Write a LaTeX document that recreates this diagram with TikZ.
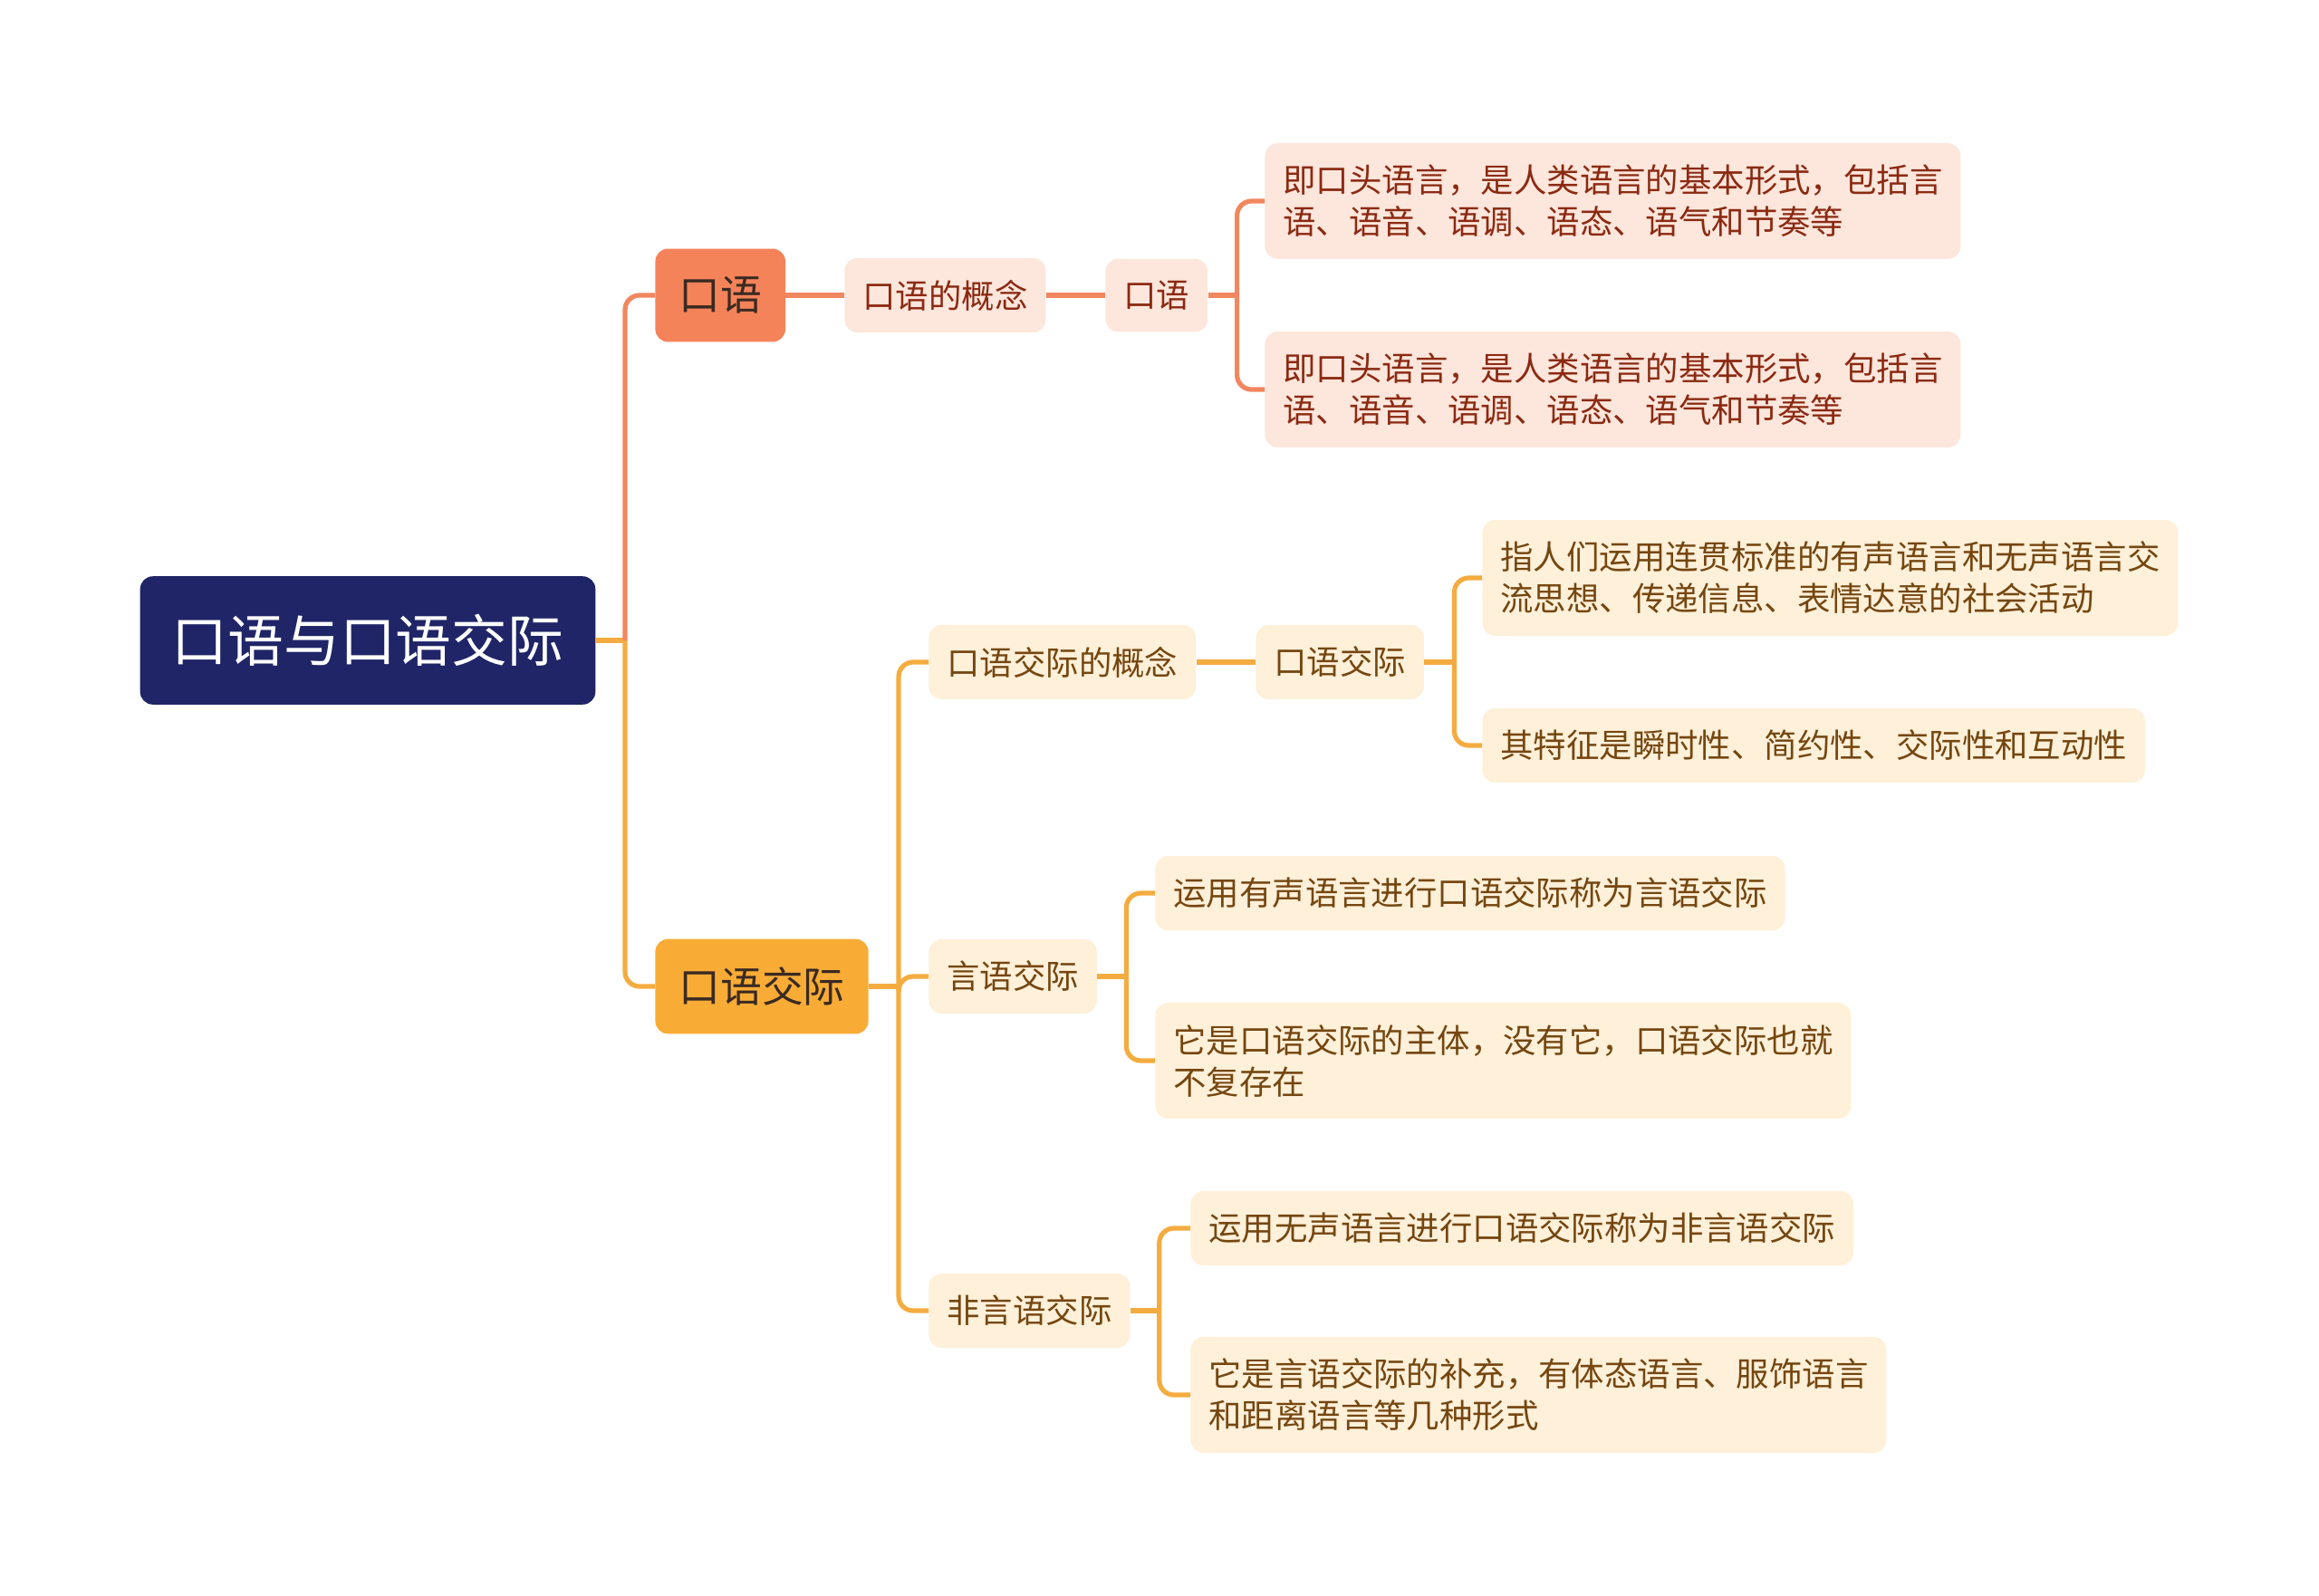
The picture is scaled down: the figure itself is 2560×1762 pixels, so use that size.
\documentclass[tikz,border=0pt]{standalone}
\usepackage{fontspec}
\setmainfont{Noto Sans CJK SC}
\usepackage{xcolor}
\usepackage{tikz}
\definecolor{navy}{HTML}{1F2566}
\definecolor{orMain}{HTML}{F5835A}
\definecolor{orLine}{HTML}{F1875F}
\definecolor{orFill}{HTML}{FDE6DC}
\definecolor{orText}{HTML}{8B2A12}
\definecolor{yeMain}{HTML}{F8AC36}
\definecolor{yeLine}{HTML}{F4AC40}
\definecolor{yeFill}{HTML}{FEF0D9}
\definecolor{yeText}{HTML}{754610}
\definecolor{darkText}{HTML}{3A2A22}

\begin{document}
\begin{tikzpicture}[x=0.5pt, y=-0.5pt]
\tikzset{box/.style={rounded corners=7pt, inner xsep=10pt, inner ysep=12pt, align=left, anchor=west, font=\fontsize{18.2}{23}\selectfont},
 obox/.style={box, fill=orFill, text=orText},
 ybox/.style={box, fill=yeFill, text=yeText},
 topic/.style={rounded corners=7pt, inner xsep=13pt, inner ysep=15.5pt, anchor=west, text=darkText, font=\fontsize{22.9}{26}\selectfont},
 oline/.style={draw=orLine, line width=2.6pt},
 yline/.style={draw=yeLine, line width=2.6pt}}
\useasboundingbox (0,0) rectangle (2560,1762);

\node [rounded corners=7pt, fill=navy, text=white, inner xsep=17.5pt, inner ysep=21pt, font=\fontsize{30.9}{34}\selectfont] (root) at (406,707) {口语与口语交际};

\node [topic, fill=orMain] (ky) at (723,326) {口语};
\node [topic, fill=yeMain] (kyjj) at (723,1089) {口语交际};

\node [obox] (kygn) at (932,326) {口语的概念};
\node [obox] (ky3) at (1220,326) {口语};
\node [obox] (kyA) at (1396,222) {即口头语言，是人类语言的基本形式，包括言\\语、语音、语调、语态、语气和节奏等};
\node [obox] (kyB) at (1396,430) {即口头语言，是人类语言的基本形式，包括言\\语、语音、语调、语态、语气和节奏等};

\node [ybox] (jjgn) at (1025,731) {口语交际的概念};
\node [ybox] (jj3) at (1386,731) {口语交际};
\node [ybox] (jjA) at (1636,638) {指人们运用连贯标准的有声语言和无声语言交\\流思想、传递信息、表情达意的社会活动};
\node [ybox] (jjB) at (1636,823) {其特征是瞬时性、简约性、交际性和互动性};

\node [ybox] (yy) at (1025,1078) {言语交际};
\node [ybox] (yyA) at (1275,986) {运用有声语言进行口语交际称为言语交际};
\node [ybox] (yyB) at (1275,1171) {它是口语交际的主体，没有它，口语交际也就\\不复存在};

\node [ybox] (fy) at (1025,1447) {非言语交际};
\node [ybox] (fyA) at (1314,1356) {运用无声语言进行口语交际称为非言语交际};
\node [ybox] (fyB) at (1314,1540) {它是言语交际的补充，有体态语言、服饰语言\\和距离语言等几种形式};

\draw [yline] (root.east) -- (690,707) coordinate (rootj);
\draw [oline, rounded corners=8pt] (rootj) |- (ky.west);
\draw [yline, rounded corners=8pt] (rootj) |- (kyjj.west);

\draw [oline] (ky.east) -- (kygn.west);
\draw [oline] (kygn.east) -- (ky3.west);
\draw [oline] (ky3.east) -- ++(32,0) coordinate (ky3j);
\draw [oline, rounded corners=8pt] (ky3j) |- (kyA.west);
\draw [oline, rounded corners=8pt] (ky3j) |- (kyB.west);

\draw [yline] (kyjj.east) -- ++(33,0) coordinate (kyjjj);
\foreach \n in {jjgn, yy, fy}
 \draw [yline, rounded corners=8pt] (kyjjj) |- (\n.west);

\draw [yline] (jjgn.east) -- (jj3.west);
\draw [yline] (jj3.east) -- ++(33,0) coordinate (jj3j);
\draw [yline, rounded corners=8pt] (jj3j) |- (jjA.west);
\draw [yline, rounded corners=8pt] (jj3j) |- (jjB.west);

\draw [yline] (yy.east) -- ++(32,0) coordinate (yyj);
\draw [yline, rounded corners=8pt] (yyj) |- (yyA.west);
\draw [yline, rounded corners=8pt] (yyj) |- (yyB.west);

\draw [yline] (fy.east) -- ++(32,0) coordinate (fyj);
\draw [yline, rounded corners=8pt] (fyj) |- (fyA.west);
\draw [yline, rounded corners=8pt] (fyj) |- (fyB.west);
\end{tikzpicture}
\end{document}
